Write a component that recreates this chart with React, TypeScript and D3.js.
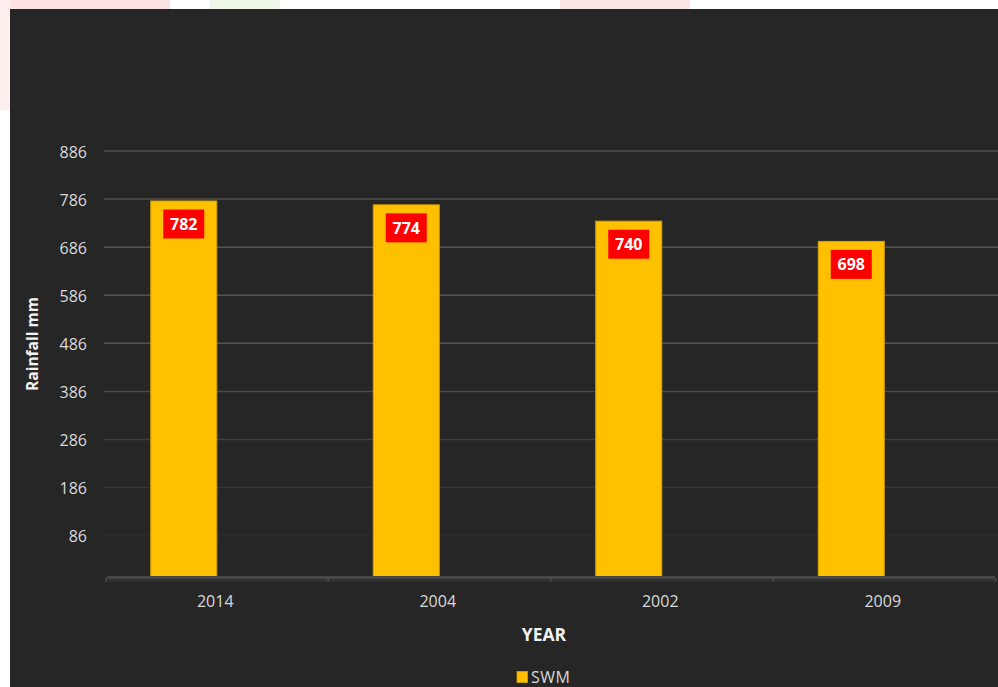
import React from "react";
import * as d3 from "d3";

const categories = ["2014", "2004", "2002", "2009"];
const swmValues = [782, 774, 740, 698];
const yTickValues = [86, 186, 286, 386, 486, 586, 686, 786, 886];
const seriesSlots = ["SWM", "(none)"];
const legendLabel = "SWM";
const xTitle = "YEAR";
const yTitle = "Rainfall mm";

const W = 998;
const H = 687;
const FONT = "'Open Sans', 'Noto Sans', sans-serif";

export default function App() {
  const x = d3.scaleBand<string>().domain(categories).range([105.5, 995.5]).paddingInner(0).paddingOuter(0);
  const inner = d3
    .scaleBand<string>()
    .domain(seriesSlots)
    .range([0, x.bandwidth()])
    .paddingInner(0)
    .paddingOuter(0.686);
  const y = d3.scaleLinear().domain([0, 886]).range([577, 151]);
  const gridColor = d3
    .scaleLinear<string>()
    .domain([86, 486])
    .range(["#2c2c2c", "#535353"])
    .clamp(true);

  const boundaries = [...categories.map((c) => x(c) as number), x.range()[1]];

  return (
    <svg
      width={W}
      height={H}
      style={{ position: "fixed", left: 0, top: 0, display: "block" }}
      fontFamily={FONT}
    >
      <rect x={0} y={0} width={W} height={H} fill="#ffffff" />
      {/* faint watermark hints */}
      <rect x={0} y={0} width={170} height={9} fill="#fbe3e3" />
      <rect x={0} y={0} width={10} height={110} fill="#fdeeee" />
      <rect x={210} y={0} width={70} height={9} fill="#eef7e8" />
      <rect x={560} y={0} width={130} height={9} fill="#fde6e6" />
      <rect x={10} y={9} width={W - 10} height={H - 9} fill="#262626" />

      {/* gridlines */}
      {yTickValues.map((t) => (
        <line
          key={"g" + t}
          x1={104}
          x2={W}
          y1={y(t)}
          y2={y(t)}
          stroke={gridColor(t)}
          strokeWidth={1.5}
        />
      ))}

      {/* y tick labels */}
      {yTickValues.map((t) => (
        <text
          key={"t" + t}
          x={87}
          y={y(t) + 6.5}
          textAnchor="end"
          fontSize={16}
          fill="#d9d9d9"
        >
          {t}
        </text>
      ))}

      {/* bars */}
      {categories.map((c, i) => {
        const bx = (x(c) as number) + (inner("SWM") as number);
        const by = y(swmValues[i]);
        return (
          <rect
            key={"b" + c}
            x={bx}
            y={by}
            width={inner.bandwidth()}
            height={y(0) - by}
            fill="#FFC000"
            stroke="#D9A300"
            strokeWidth={1}
          />
        );
      })}

      {/* axis line */}
      <rect x={107} y={576} width={888} height={3} fill="#474747" />
      <rect x={107} y={579} width={888} height={3} fill="#303030" />
      {boundaries.map((b, i) => (
        <rect key={"tk" + i} x={b - 0.5} y={578} width={1.5} height={4} fill="#4c4c4c" />
      ))}

      {/* data labels */}
      {categories.map((c, i) => {
        const cx = (x(c) as number) + (inner("SWM") as number) + inner.bandwidth() / 2;
        const cy = y(swmValues[i]) + 23;
        return (
          <g key={"l" + c}>
            <rect x={cx - 20.5} y={cy - 14.5} width={41} height={29} fill="#FF0000" />
            <text
              x={cx}
              y={cy + 5.8}
              textAnchor="middle"
              fontSize={16}
              fontWeight="bold"
              fill="#ffffff"
            >
              {swmValues[i]}
            </text>
          </g>
        );
      })}

      {/* category labels */}
      {categories.map((c) => (
        <text
          key={"c" + c}
          x={(x(c) as number) + x.bandwidth() / 2 - 1.5}
          y={607}
          textAnchor="middle"
          fontSize={16}
          fill="#d9d9d9"
        >
          {c}
        </text>
      ))}

      {/* axis titles */}
      <text x={544} y={641} textAnchor="middle" fontSize={17.5} fontWeight="bold" fill="#f2f2f2">
        {xTitle}
      </text>
      <text
        transform="translate(38,344) rotate(-90)"
        textAnchor="middle"
        fontSize={15.5}
        fontWeight="bold"
        fill="#f2f2f2"
      >
        {yTitle}
      </text>

      {/* legend */}
      <rect x={517} y={671.5} width={10.5} height={11} fill="#FFC000" stroke="#D9A300" strokeWidth={0.8} />
      <text x={531} y={683} fontSize={16} fill="#d9d9d9" letterSpacing={0.5}>
        {legendLabel}
      </text>
    </svg>
  );
}
